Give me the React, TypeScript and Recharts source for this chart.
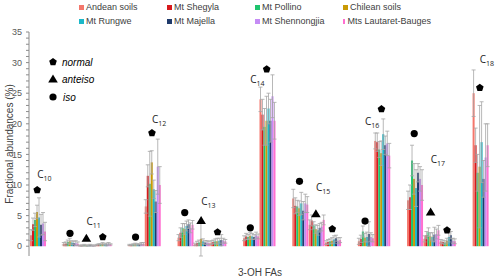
import React from 'react';
import { ComposedChart, Bar, Line, XAxis, YAxis, ErrorBar } from 'recharts';

// 3-OH fatty acid categories, in plotting order (gaps separate chain lengths)
const slots = [
  'C10 normal', '', 'C11 iso', 'C11 anteiso', 'C11 normal', '', 'C12 iso', 'C12 normal', '',
  'C13 iso', 'C13 anteiso', 'C13 normal', '', 'C14 iso', 'C14 normal', '',
  'C15 iso', 'C15 anteiso', 'C15 normal', '', 'C16 iso', 'C16 normal', '',
  'C17 iso', 'C17 anteiso', 'C17 normal', '', 'C18 normal'
];

const seriesNames = [
  'Andean soils', 'Mt Shegyla', 'Mt Pollino', 'Chilean soils',
  'Mt Rungwe', 'Mt Majella', 'Mt Shennongjia', 'Mts Lautaret-Bauges'
];
const colors = ['#f4776c', '#d7191c', '#1fc46e', '#c99a06', '#1bb8c9', '#1f3a6b', '#c58cf5', '#ff6fd0'];

// values for the 20 non-empty categories
const andean = [1.8, 0.4, 0.1, 0.2, 0.2, 6.5, 1.4, 0.3, 0.6, 1.3, 24.0, 7.8, 3.5, 0.6, 0.8, 17.2, 7.5, 1.2, 0.8, 25.0];
const shegyla = [3.6, 0.4, 0.1, 0.3, 0.2, 11.5, 2.2, 0.5, 0.7, 1.6, 21.5, 6.6, 4.2, 0.7, 1.2, 17.0, 8.0, 1.8, 0.7, 16.5];
const pollino = [4.3, 0.7, 0.2, 0.3, 0.3, 10.2, 3.0, 0.6, 0.8, 1.5, 19.5, 6.5, 3.4, 0.8, 2.4, 15.8, 14.0, 2.3, 0.6, 12.0];
const chilean = [5.6, 0.8, 0.1, 0.4, 0.3, 13.7, 2.8, 1.2, 0.8, 1.7, 20.5, 6.2, 2.8, 0.9, 1.4, 15.2, 11.0, 1.6, 0.9, 13.0];
const rungwe = [4.7, 0.6, 0.1, 0.3, 0.3, 9.3, 3.3, 0.8, 0.9, 1.6, 22.5, 7.0, 2.6, 1.1, 1.5, 18.3, 9.5, 1.5, 1.5, 17.0];
const majella = [3.5, 0.5, 0.2, 0.3, 0.3, 7.3, 3.6, 0.6, 1.0, 1.5, 20.5, 5.8, 3.0, 1.3, 2.0, 16.5, 12.0, 1.9, 1.8, 11.0];
const shennongjia = [3.7, 0.5, 0.1, 0.4, 0.4, 13.0, 3.0, 0.6, 0.9, 1.8, 24.5, 7.0, 3.2, 0.9, 1.5, 16.8, 11.0, 2.0, 0.9, 14.5];
const lautaret = [2.4, 0.4, 0.1, 0.3, 0.4, 10.0, 3.5, 0.5, 0.8, 1.6, 20.5, 6.8, 4.3, 1.0, 1.3, 14.8, 10.0, 2.6, 0.8, 16.5];

const andeanErr = [0.9, 0.2, 0.1, 0.1, 0.1, 1.1, 0.5, 0.2, 0.3, 0.4, 2.0, 1.5, 0.8, 0.3, 0.5, 1.3, 1.5, 0.5, 0.3, 3.8];
const shegylaErr = [1.0, 0.3, 0.1, 0.1, 0.1, 1.8, 0.8, 0.3, 0.3, 0.5, 2.5, 1.3, 0.9, 0.4, 0.6, 1.5, 2.0, 0.6, 0.3, 2.8];
const pollinoErr = [1.1, 0.3, 0.1, 0.1, 0.1, 5.3, 0.7, 0.4, 0.4, 0.4, 3.0, 1.0, 0.6, 0.4, 0.9, 1.3, 2.5, 0.7, 0.3, 3.0];
const chileanErr = [1.1, 0.5, 0.1, 0.2, 0.2, 1.9, 0.9, 2.8, 0.5, 0.5, 4.0, 1.2, 0.7, 0.5, 0.7, 2.0, 2.5, 0.6, 0.4, 10.0];
const rungweErr = [3.2, 0.3, 0.1, 0.1, 0.1, 1.5, 0.8, 0.4, 0.4, 0.5, 2.5, 1.8, 0.8, 0.6, 0.8, 2.5, 3.0, 0.7, 0.8, 6.6];
const majellaErr = [1.7, 0.3, 0.1, 0.2, 0.1, 1.8, 0.7, 0.3, 0.9, 0.4, 3.5, 1.5, 0.7, 0.5, 2.0, 1.5, 1.5, 1.2, 0.6, 3.0];
const shennongjiaErr = [1.8, 0.4, 0.1, 0.2, 0.2, 4.5, 0.8, 0.3, 0.4, 0.5, 3.5, 1.5, 0.7, 0.5, 0.7, 2.0, 2.0, 0.8, 0.4, 5.5];
const lautaretErr = [1.5, 0.3, 0.1, 0.1, 0.2, 3.0, 0.7, 0.3, 0.3, 0.4, 3.0, 1.3, 0.8, 0.4, 0.6, 2.0, 2.5, 0.8, 0.4, 3.5];

const seriesValues = [andean, shegyla, pollino, chilean, rungwe, majella, shennongjia, lautaret];
const seriesErrors = [andeanErr, shegylaErr, pollinoErr, chileanErr, rungweErr, majellaErr, shennongjiaErr, lautaretErr];

// height of the isomer symbol above each category
const markerY = [9.2, 2.1, 1.3, 1.5, 1.5, 18.5, 5.5, 4.2, 2.3, 3.0, 28.9, 10.6, 5.3, 2.8, 4.1, 22.4, 18.4, 5.6, 2.6, 25.9];

// chain-length labels
const labelNums = ['10', '11', '12', '13', '14', '15', '16', '17', '18'];
const labelSlots = ['C10 normal', 'C11 anteiso', 'C12 normal', 'C13 anteiso', 'C14 iso', 'C15 anteiso', 'C16 iso', 'C17 anteiso', 'C18 normal'];
const labelY = [11.6, 3.9, 20.6, 7.2, 27.2, 9.5, 20.3, 14.1, 30.5];

const yTicks = Array.from({ length: 36 }, (_, i) => i);

let catIdx = 0;
const rows = slots.map((name, i) => {
  const row: any = { key: name || `gap${i}` };
  if (!name) return row;
  const c = catIdx++;
  seriesValues.forEach((arr, s) => {
    row[`s${s}`] = arr[c];
    row[`e${s}`] = seriesErrors[s][c];
  });
  row.mark = markerY[c];
  row.markType = name.split(' ')[1];
  const li = labelSlots.indexOf(name);
  if (li >= 0) {
    row.lab = labelY[li];
    row.labNum = labelNums[li];
  }
  return row;
});

const pentagon = (cx: number, cy: number, r: number) =>
  [0, 1, 2, 3, 4]
    .map((k) => {
      const a = (-90 + k * 72) * (Math.PI / 180);
      return `${cx + r * Math.cos(a)},${cy + r * Math.sin(a)}`;
    })
    .join(' ');

const Symbol = ({ type, cx, cy }: { type: string; cx: number; cy: number }) => {
  if (type === 'normal') return <polygon points={pentagon(cx, cy, 4)} fill="#000" />;
  if (type === 'anteiso') return <polygon points={`${cx},${cy - 4.5} ${cx + 4.8},${cy + 3.5} ${cx - 4.8},${cy + 3.5}`} fill="#000" />;
  return <circle cx={cx} cy={cy} r={3.6} fill="#000" />;
};

const renderMarker = (props: any) => {
  const { cx, cy, payload, index } = props;
  if (payload.mark == null || cy == null) return <g key={`m${index}`} />;
  return (
    <g key={`m${index}`}>
      <Symbol type={payload.markType} cx={cx} cy={cy} />
    </g>
  );
};

const renderLabel = (props: any) => {
  const { cx, cy, payload, index } = props;
  if (payload.lab == null || cy == null) return <g key={`l${index}`} />;
  return (
    <text key={`l${index}`} x={cx} y={cy + 3} fontSize={10} fill="#222" fontFamily='"Open Sans", sans-serif'>
      C<tspan dy={3} fontSize={7}>{payload.labNum}</tspan>
    </text>
  );
};

const App: React.FC = () => {
  return (
    <div style={{ position: 'absolute', left: 0, top: 0, width: 500, height: 279, background: '#fff', fontFamily: '"Liberation Sans", Arial, sans-serif' }}>
      <ComposedChart width={500} height={279} data={rows} margin={{ top: 32, right: 3, bottom: 23, left: 0 }} barCategoryGap={1} barGap={0}>
        <XAxis dataKey="key" tick={false} tickLine={false} height={0} interval={0} axisLine={{ stroke: '#bfbfbf' }} padding={{ left: 0, right: 9 }} />
        <YAxis
          domain={[0, 35]}
          ticks={yTicks}
          interval={0}
          width={29}
          tickSize={3}
          tickMargin={4}
          tickFormatter={(v: number) => (v % 5 === 0 ? String(v) : '')}
          tick={{ fontSize: 9, fill: '#595959' }}
          tickLine={{ stroke: '#8c8c8c' }}
          axisLine={{ stroke: '#8c8c8c' }}
        />
        {seriesNames.map((n, i) => (
          <Bar key={n} dataKey={`s${i}`} name={n} fill={colors[i]} isAnimationActive={false}>
            <ErrorBar dataKey={`e${i}`} width={2} stroke="#a6a6a6" strokeWidth={0.8} />
          </Bar>
        ))}
        <Line dataKey="mark" stroke="none" dot={renderMarker} activeDot={false} isAnimationActive={false} legendType="none" />
        <Line dataKey="lab" stroke="none" dot={renderLabel} activeDot={false} isAnimationActive={false} legendType="none" />
      </ComposedChart>

      {/* series legend */}
      <div style={{ position: 'absolute', left: 79, top: 1, width: 360, display: 'grid', gridTemplateColumns: 'repeat(4, 88px)', rowGap: 2 }}>
        {seriesNames.map((n, i) => (
          <div key={n} style={{ display: 'flex', alignItems: 'center', fontSize: 9, color: '#404040', height: 12, whiteSpace: 'nowrap' }}>
            <span style={{ width: 5, height: 5, background: colors[i], marginRight: 2 }} />
            {n}
          </div>
        ))}
      </div>

      {/* isomer legend */}
      <svg style={{ position: 'absolute', left: 0, top: 0 }} width={120} height={110}>
        <Symbol type="normal" cx={53} cy={62} />
        <Symbol type="anteiso" cx={53} cy={79} />
        <Symbol type="iso" cx={53} cy={97} />
        <text x={62} y={65.5} fontSize={10} fontStyle="italic" fill="#000">normal</text>
        <text x={62} y={82.5} fontSize={10} fontStyle="italic" fill="#000">anteiso</text>
        <text x={63} y={100.5} fontSize={10} fontStyle="italic" fill="#000">iso</text>
      </svg>

      <div style={{ position: 'absolute', left: 9, top: 144, transform: 'translate(-50%, -50%) rotate(-90deg)', fontSize: 10, color: '#404040', whiteSpace: 'nowrap' }}>
        Fractional abundances (%)
      </div>
      <div style={{ position: 'absolute', left: 260, top: 272, transform: 'translate(-50%, -50%)', fontSize: 10, color: '#404040', whiteSpace: 'nowrap' }}>
        3-OH FAs
      </div>
    </div>
  );
};

export default App;
